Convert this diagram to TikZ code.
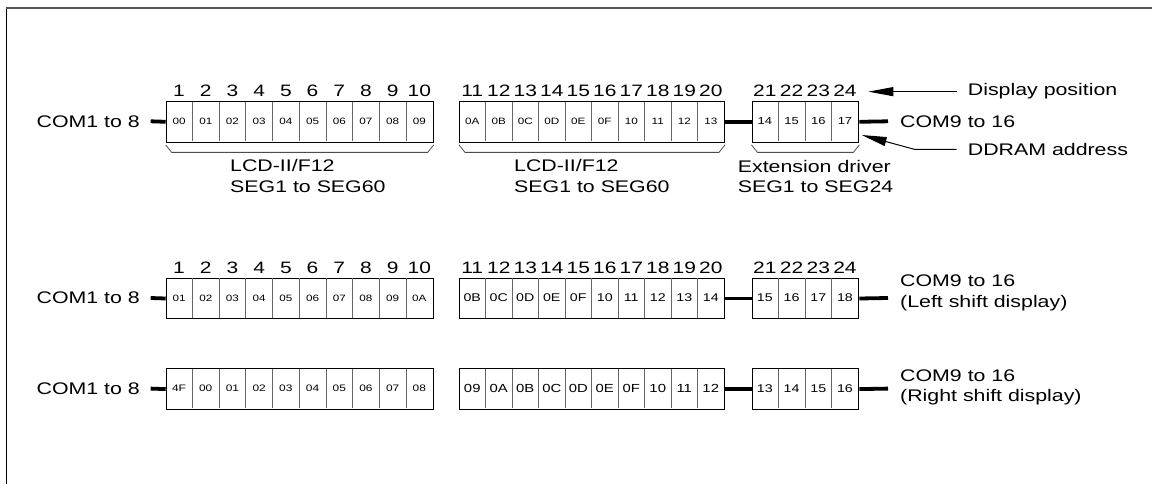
\documentclass[tikz,border=0pt]{standalone}
\usepackage{fontspec}
\setmainfont[FakeStretch=1.27]{Liberation Sans}
\usetikzlibrary{arrows.meta}

% #1 name, #2 left x, #3 top y, #4 cell width, #5 cell count, #6 font size, #7 labels
\newcommand\cellblock[7]{%
  \node[blk, minimum width={(#4*#5)*1pt}] (#1) at (#2,#3) {};
  \foreach \t [count=\i] in {#7} {
    \ifnum\i>1 \draw[divider] ({#2+(\i-1)*#4},{#3+0.6}) -- ({#2+(\i-1)*#4},{#3+40}); \fi
    \node[font=\fontsize{#6}{#6}\selectfont, inner sep=0pt] (#1-\i) at ({#2+(\i-0.5)*#4},{#3+20.3}) {\t};
  }
}
% #1 name, #2 left x, #3 top y, #4 cell width, #5 first, #6 last
\newcommand\numrow[6]{%
  \foreach \k [count=\i] in {#5,...,#6} {
    \node[num] (#1-\i) at ({#2+(\i-0.5)*#4},{#3-4.3}) {\k};
  }
}
\newcommand\segbrace[1]{%
  \draw[brace] ([yshift=-2.3pt]#1.south west) -- ([xshift=6pt,yshift=-9.8pt]#1.south west)
    -- ([xshift=-6pt,yshift=-9.8pt]#1.south east) -- ([yshift=-2.3pt]#1.south east);
}

\begin{document}
\begin{tikzpicture}[x=1pt,y=-1pt,
  blk/.style={draw=black, line width=1pt, minimum height=40.6pt, inner sep=0pt, anchor=north west},
  divider/.style={draw=black!60, line width=0.8pt},
  wire/.style={line width=3.8pt, line cap=butt},
  lbl/.style={font=\fontsize{16.8}{20}\selectfont, inner sep=0pt},
  num/.style={font=\fontsize{16.5}{18}\selectfont, inner sep=0pt, anchor=base},
  brace/.style={draw=black!70, line width=0.8pt},
  ptr/.style={line width=1pt, -{Triangle[length=25pt,width=9pt]}},
]
\useasboundingbox (0,0) rectangle (1152,484);

% frame
\draw[black, line width=1.2pt] (6.3,7) -- (6.3,484);
\draw[black!67, line width=1.8pt] (5.7,7.7) -- (1152,7.7);

% ---------- Row 1 ----------
\numrow{n1a}{165.7}{101}{26.7}{1}{10}
\numrow{n1b}{459}{101}{26.5}{11}{20}
\numrow{n1c}{751.5}{101}{26.7}{21}{24}
\cellblock{r1b1}{165.7}{101}{26.7}{10}{9.2}{00,01,02,03,04,05,06,07,08,09}
\cellblock{r1b2}{459}{101}{26.5}{10}{9.2}{0A,0B,0C,0D,0E,0F,10,11,12,13}
\cellblock{r1b3}{751.5}{101}{26.7}{4}{10.2}{14,15,16,17}
\segbrace{r1b1}
\segbrace{r1b2}
\segbrace{r1b3}

\node[lbl, anchor=east] (com1r1) at (140,121.3) {COM1 to 8};
\coordinate (w1l) at (150.7,121.3);
\coordinate (w1r) at (888,121.3);
\draw[wire] (w1l) -- (r1b1.west);
\draw[wire] (r1b2.east) -- (r1b3.west);
\draw[wire] (r1b3.east) -- (w1r);
\node[lbl, anchor=base west] (com9r1) at (900,127.6) {COM9 to 16};

\node[lbl, anchor=base west] (lcd1a) at (230,171.7) {LCD-II/F12};
\node[lbl, anchor=base west] (lcd1b) at (230,192.3) {SEG1 to SEG60};
\node[lbl, anchor=base west] (lcd2a) at (514,171.7) {LCD-II/F12};
\node[lbl, anchor=base west] (lcd2b) at (514,192.3) {SEG1 to SEG60};
\node[lbl, anchor=base west] (exta) at (737.7,172) {Extension driver};
\node[lbl, anchor=base west] (extb) at (737.7,192.5) {SEG1 to SEG24};

\node[lbl, anchor=base west] (dp) at (967.7,96) {Display position};
\coordinate (dptip) at (868.3,90.7);
\draw[ptr] ([xshift=-11pt]dp.west) -- (dptip |- dp.west);

\node[lbl, anchor=base west] (dd) at (967.7,155.5) {DDRAM address};
\coordinate (ddtip) at (861.7,135);
\draw[ptr] ([xshift=-11pt]dd.west) -- ++(-41.7,0) -- (ddtip);

% ---------- Row 2 ----------
\numrow{n2a}{165.7}{277.7}{26.7}{1}{10}
\numrow{n2b}{459}{277.7}{26.5}{11}{20}
\numrow{n2c}{751.5}{277.7}{26.7}{21}{24}
\cellblock{r2b1}{165.7}{277.7}{26.7}{10}{9.2}{01,02,03,04,05,06,07,08,09,0A}
\cellblock{r2b2}{459}{277.7}{26.5}{10}{11.2}{0B,0C,0D,0E,0F,10,11,12,13,14}
\cellblock{r2b3}{751.5}{277.7}{26.7}{4}{11.2}{15,16,17,18}

\node[lbl, anchor=east] (com1r2) at (140,298) {COM1 to 8};
\coordinate (w2l) at (150.7,298);
\coordinate (w2r) at (888,298);
\draw[wire] (w2l) -- (r2b1.west);
\draw[wire] (r2b2.east) -- (r2b3.west);
\draw[wire] (r2b3.east) -- (w2r);
\node[lbl, anchor=base west] (com9r2) at (900,286.6) {COM9 to 16};
\node[lbl, anchor=base west] (lsd) at (900,307.2) {(Left shift display)};

% ---------- Row 3 ----------
\cellblock{r3b1}{165.7}{368.3}{26.7}{10}{9.4}{4F,00,01,02,03,04,05,06,07,08}
\cellblock{r3b2}{459}{368.3}{26.5}{10}{11.7}{09,0A,0B,0C,0D,0E,0F,10,11,12}
\cellblock{r3b3}{751.5}{368.3}{26.7}{4}{11.2}{13,14,15,16}

\node[lbl, anchor=east] (com1r3) at (140,388.6) {COM1 to 8};
\coordinate (w3l) at (150.7,388.6);
\coordinate (w3r) at (888,388.6);
\draw[wire] (w3l) -- (r3b1.west);
\draw[wire] (r3b2.east) -- (r3b3.west);
\draw[wire] (r3b3.east) -- (w3r);
\node[lbl, anchor=base west] (com9r3) at (900,381) {COM9 to 16};
\node[lbl, anchor=base west] (rsd) at (900,401.6) {(Right shift display)};
\end{tikzpicture}
\end{document}
